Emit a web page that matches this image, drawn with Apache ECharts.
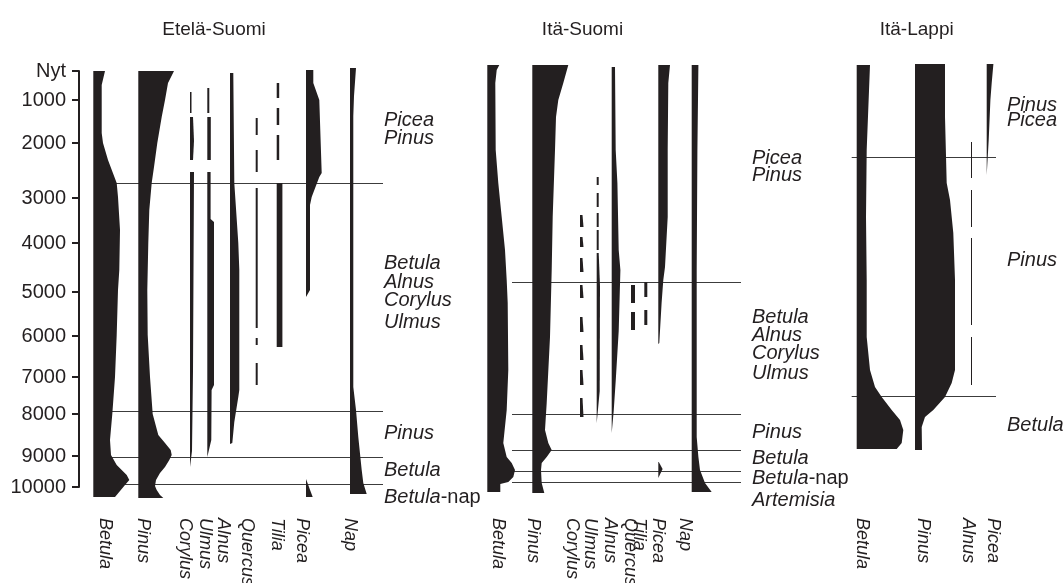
<!DOCTYPE html>
<html>
<head>
<meta charset="utf-8">
<title>Siitepölydiagrammit</title>
<script src="https://cdn.jsdelivr.net/npm/echarts@6/dist/echarts.min.js"></script>
<style>
  html, body { margin: 0; padding: 0; background: #ffffff; }
  #chart { width: 1064px; height: 583px; }
</style>
</head>
<body>
<div id="chart"></div>
<script>
// ---- Age scale: depth position of each age tick (depth units, 0 = present) ----
const ageLabels = ['Nyt', '1000', '2000', '3000', '4000', '5000', '6000', '7000', '8000', '9000', '10000'];
const ageDepth  = [0, 29, 72, 127, 172, 221, 265, 306, 343, 385, 416];

// ---- Pollen curves: each taxon is a list of continuous segments, [depth, abundance] ----
// Etelä-Suomi
const esBetula  = [[[0,11.7],[14,8.4],[62,8.4],[72,9.7],[89,14.7],[112,23.4],[126,24.7],[159,26.7],[199,26],[219,24.7],[264,23.4],[306,21.7],[343,19],[369,16.7],[384,17.7],[394,23.4],[404,33.4],[409,36],[414,31.7],[426,21.7]]];
const esPinus   = [[[0,35.7],[12,29.7],[29,26.7],[46,23.4],[72,19],[96,15.7],[112,13.4],[139,11],[172,10],[219,9],[264,9.4],[306,11.7],[343,14.4],[364,20],[372,26.7],[379,32.4],[384,33.4],[389,31],[396,26.7],[402,21.7],[409,17.7],[415,16.7],[419,18.4],[424,21.7],[427,25]]];
const esCorylus = [[[21,1.5],[42,1.5]], [[46,3],[70,4],[89,3]], [[101,4],[200,3.5],[300,3],[380,2],[396,0]]];
const esUlmus   = [[[17,2],[42,2]], [[46,3.5],[89,3.5]], [[101,3.3],[148,3.3],[151,6.7],[314,6.7],[319,4.3],[369,4],[386,0]]];
const esAlnus   = [[[2,3.3],[112,4.3],[172,8.3],[199,9.3],[319,9.3],[326,8.3],[351,4.3],[372,2.3],[373,0]]];
const esQuercus = [[[47,2],[64,2]], [[79,2],[101,2]], [[117,2],[257,2]], [[267,2],[274,2]], [[292,2],[314,2]]];
const esTilia   = [[[12,2.5],[27,2.5]], [[37,2.5],[54,2.5]], [[64,2.5],[89,2.5]], [[112,5.7],[276,5.7]]];
const esPicea   = [[[-1,7.3],[12,7.3],[29,13.3],[102,15.7],[106,13.3],[126,5.7],[134,4],[219,4],[226,0]], [[408,0],[426,6.7]]];
const esNap     = [[[-3,6],[25,4],[45,3.3],[316,3.3],[339,6],[366,8.3],[399,11.7],[412,13.3],[423,16.7]]];
const esZones   = [112, 340, 386, 413];
const esZoneLabels = [['Picea',49],['Pinus',67],['Betula',192],['Alnus',211],['Corylus',229],['Ulmus',251],['Pinus',362],['Betula',399],['Betula-nap',426]];
const esTaxa    = ['Betula','Pinus','Corylus','Ulmus','Alnus','Quercus','Tilia','Picea','Nap'];

// Itä-Suomi
const isBetula  = [[[-6,12],[-1,9.4],[12,8],[79,8.4],[112,11],[146,14.4],[179,17.7],[209,19.4],[232,20.4],[299,21],[339,19.4],[372,16],[386,19.4],[392,24.4],[399,27.7],[406,26],[411,21],[413,13],[421,13]]];
const isPinus   = [[[-6,36],[12,31],[29,26],[46,23.7],[79,22.7],[146,20.4],[199,19.4],[266,17.7],[332,14.4],[359,12.7],[372,16],[379,19.4],[386,14.4],[392,9.4],[399,8.7],[412,9.4],[422,12]]];
const isCorylus = [[[144,2.5],[156,3.5]], [[166,2.5],[176,3.5]], [[187,2.5],[201,3.5]], [[214,2.5],[227,3.5]], [[246,2.5],[261,3.5]], [[274,2.5],[289,3.5]], [[299,2.5],[314,3.5]], [[327,2.5],[346,3.5]]];
const isUlmus   = [[[106,2],[114,2]], [[122,2],[136,2]], [[142,2],[156,2]], [[159,2],[179,2]], [[182,2],[215,3.3],[320,3],[352,0]]];
const isAlnus   = [[[-4,3.3],[79,4],[112,5.7],[179,7],[199,8.7],[260,7],[310,4],[340,2],[362,0]]];
const isQuercus = [[[214,4],[232,4]], [[241,4],[259,4]]];
const isTilia   = [[[211,3],[226,3]], [[239,3],[254,3]]];
const isPicea   = [[[-6,11.7],[12,10],[79,9.4],[146,9.4],[196,6.7],[209,5],[232,3.3],[272,1],[273,0]], [[391,0.5],[398,4.3],[407,0]]];
const isNap     = [[[-6,6.7],[79,5.7],[199,5],[366,5],[386,6.7],[399,8.3],[412,13.3],[421,20]]];
const isZones   = [211, 343, 379, 400, 411];
const isZoneLabels = [['Picea',87],['Pinus',104],['Betula',246],['Alnus',264],['Corylus',282],['Ulmus',302],['Pinus',361],['Betula',387],['Betula-nap',407],['Artemisia',429]];
const isTaxa    = ['Betula','Pinus','Corylus','Ulmus','Alnus','Quercus','Tilia','Picea','Nap'];

// Itä-Lappi
const ilBetula  = [[[-6,13.3],[12,12.6],[79,10],[146,9.3],[209,10],[266,10],[299,13.3],[316,18.3],[326,25],[339,35],[349,43.3],[359,46.6],[372,45],[378,40]]];
const ilPinus   = [[[-7,30],[46,30],[112,31.7],[129,35],[162,38.3],[209,40],[299,40],[312,36.7],[326,30],[339,18.3],[346,10],[356,6.7],[379,7]]];
const ilAlnus   = [[[71,1],[107,1]], [[119,1],[156,1]], [[167,1],[254,1]], [[266,1],[314,1]]];
const ilPicea   = [[[-7,6.7],[12,5],[29,3.7],[69,2],[104,0]]];
const ilZones   = [86, 325];
const ilZoneLabels = [['Pinus',34],['Picea',49],['Pinus',189],['Betula',354]];
const ilTaxa    = ['Betula','Pinus','Alnus','Picea'];

// ---- Layout ----
const INK = '#231f20';
const FONT = '"Liberation Sans", Arial, sans-serif';
const GRID_TOP = 71;
const DEPTH_MAX = 416;

const panels = [
  { title: 'Etelä-Suomi', left: 79, width: 300, titleX: 135,
    curves: [esBetula, esPinus, esCorylus, esUlmus, esAlnus, esQuercus, esTilia, esPicea, esNap],
    columns: [14.3, 59.3, 111, 128.3, 151, 176.7, 197.7, 227, 271],
    taxa: esTaxa, taxonLabelX: [26, 64.3, 106, 126, 144.3, 167.7, 197.7, 222.7, 271],
    zones: esZones, zoneSpan: [16, 304], zoneLabels: esZoneLabels, zoneLabelX: 305 },
  { title: 'Itä-Suomi', left: 480, width: 270, titleX: 102.5,
    curves: [isBetula, isPinus, isCorylus, isUlmus, isAlnus, isQuercus, isTilia, isPicea, isNap],
    columns: [7.3, 52.3, 100, 116.7, 131.7, 151, 164.3, 178.3, 211.7],
    taxa: isTaxa, taxonLabelX: [18, 53, 92, 110, 130, 150, 159, 178, 205],
    zones: isZones, zoneSpan: [32, 261], zoneLabels: isZoneLabels, zoneLabelX: 272 },
  { title: 'Itä-Lappi', left: 840, width: 170, titleX: 76.7,
    curves: [ilBetula, ilPinus, ilAlnus, ilPicea],
    columns: [16.7, 75, 131, 146.7],
    taxa: ilTaxa, taxonLabelX: [21.7, 83.3, 128.3, 153.3],
    zones: ilZones, zoneSpan: [11.7, 156], zoneLabels: ilZoneLabels, zoneLabelX: 167 }
];

const grids = [], xAxes = [], yAxes = [], series = [], graphics = [];

panels.forEach((p, g) => {
  grids.push({ left: p.left, top: GRID_TOP, width: p.width, height: DEPTH_MAX });
  xAxes.push({ gridIndex: g, type: 'value', min: 0, max: p.width, show: false });
  const first = g === 0;
  yAxes.push({
    gridIndex: g, type: 'value', inverse: true, min: 0, max: DEPTH_MAX, show: first,
    splitLine: { show: false },
    axisLine: { show: first, lineStyle: { color: INK, width: 2 } },
    axisTick: { show: first, customValues: ageDepth, length: 7, lineStyle: { color: INK, width: 2 } },
    axisLabel: { show: first, customValues: ageDepth, margin: 13,
      formatter: v => ageLabels[ageDepth.indexOf(v)],
      fontSize: 20, fontFamily: FONT, color: INK }
  });

  // zone boundaries (drawn beneath the curves)
  series.push({
    type: 'custom', xAxisIndex: g, yAxisIndex: g, z: 2, silent: true, clip: false,
    data: p.zones.map(d => [p.zoneSpan[0], d]),
    renderItem(params, api) {
      const d = p.zones[params.dataIndex];
      const a = api.coord([p.zoneSpan[0], d]);
      const b = api.coord([p.zoneSpan[1], d]);
      const y = Math.round(a[1]) + 0.5;
      return { type: 'line', shape: { x1: a[0], y1: y, x2: b[0], y2: y },
               style: { stroke: '#3c3c3c', lineWidth: 1 } };
    }
  });

  // silhouette curves
  const segs = [];
  p.curves.forEach((segList, k) => segList.forEach(seg => segs.push({ base: p.columns[k], seg })));
  series.push({
    type: 'custom', xAxisIndex: g, yAxisIndex: g, z: 3, silent: true, clip: false,
    data: segs.map(s => [s.base, s.seg[0][0]]),
    renderItem(params, api) {
      const { base, seg } = segs[params.dataIndex];
      const leftEdge = seg.map(([d]) => api.coord([base, d]));
      const rightEdge = seg.slice().reverse().map(([d, w]) => api.coord([base + w, d]));
      return { type: 'polygon', shape: { points: leftEdge.concat(rightEdge) },
               style: { fill: INK, stroke: null } };
    }
  });

  // zone names
  series.push({
    type: 'custom', xAxisIndex: g, yAxisIndex: g, z: 4, silent: true, clip: false,
    data: p.zoneLabels.map(l => [p.zoneLabelX, l[1]]),
    renderItem(params, api) {
      const [name, d] = p.zoneLabels[params.dataIndex];
      const pt = api.coord([p.zoneLabelX, d]);
      const parts = name.split('-');
      const text = parts.length > 1 ? '{i|' + parts[0] + '}{n|-' + parts[1] + '}' : '{i|' + name + '}';
      return { type: 'text', x: pt[0], y: pt[1],
        style: { text, align: 'left', verticalAlign: 'middle',
          rich: {
            i: { fontStyle: 'italic', fontSize: 20, fontFamily: FONT, fill: INK, color: INK },
            n: { fontStyle: 'normal', fontSize: 20, fontFamily: FONT, fill: INK, color: INK }
          } } };
    }
  });

  // panel title
  graphics.push({ type: 'text', x: p.left + p.titleX, y: 30, silent: true,
    style: { text: p.title, align: 'center', verticalAlign: 'middle',
             font: '19px ' + FONT, fill: INK } });

  // taxon names beneath the columns, reading downwards
  p.taxa.forEach((t, k) => {
    graphics.push({ type: 'text', x: p.left + p.taxonLabelX[k], y: 518, rotation: -Math.PI / 2, silent: true,
      style: { text: t, align: 'left', verticalAlign: 'middle',
               font: 'italic 18px ' + FONT, fill: INK } });
  });
});

const chart = echarts.init(document.getElementById('chart'), null, { renderer: 'canvas' });
chart.setOption({
  animation: false,
  backgroundColor: '#ffffff',
  grid: grids,
  xAxis: xAxes,
  yAxis: yAxes,
  series,
  graphic: graphics
});
</script>
</body>
</html>
